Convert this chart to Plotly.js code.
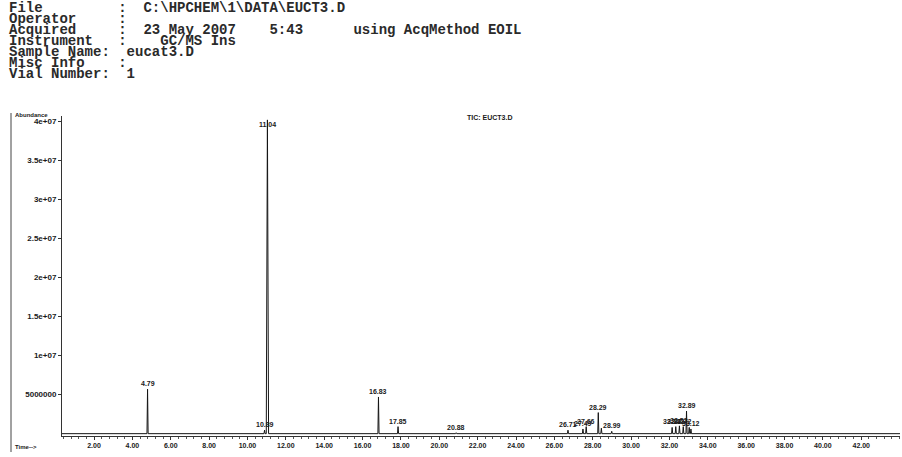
<!DOCTYPE html>
<html>
<head>
<meta charset="utf-8">
<script src="https://cdn.plot.ly/plotly-3.0.1.min.js"></script>
<style>
  html, body { margin: 0; padding: 0; background: #fff; }
  #chart { width: 902px; height: 457px; }
</style>
</head>
<body>
<div id="chart"></div>
<script>
// ---- data ----
const headerLines = [
  "File         :  C:\\HPCHEM\\1\\DATA\\EUCT3.D",
  "Operator     :",
  "Acquired     :  23 May 2007    5:43      using AcqMethod EOIL",
  "Instrument   :    GC/MS Ins",
  "Sample Name:  eucat3.D",
  "Misc Info    :",
  "Vial Number:  1"
];
const peakTimes   = [4.79, 10.89, 11.04, 16.83, 17.85, 20.88, 26.71, 27.49, 27.66, 28.29, 28.45, 28.99, 32.14, 32.33, 32.52, 32.72, 32.89, 33.03, 33.12];
const peakHeights = [5.7e6, 0.45e6, 4.02e7, 4.7e6, 0.9e6, 0.12e6, 0.45e6, 0.6e6, 0.9e6, 2.7e6, 0.7e6, 0.3e6, 0.8e6, 0.9e6, 1.0e6, 0.9e6, 2.9e6, 0.8e6, 0.6e6];
const peakLabels  = ["4.79", "10.89", "11.04", "16.83", "17.85", "20.88", "26.71", "27.49", "27.66", "28.29", "", "28.99", "32.14", "32.33", "32.52", "32.72", "32.89", "", "33.12"];
const yTickVals   = [5e6, 1e7, 1.5e7, 2e7, 2.5e7, 3e7, 3.5e7, 4e7];
const yTickText   = ["5000000", "1e+07", "1.5e+07", "2e+07", "2.5e+07", "3e+07", "3.5e+07", "4e+07"];
const xTickVals   = [2, 4, 6, 8, 10, 12, 14, 16, 18, 20, 22, 24, 26, 28, 30, 32, 34, 36, 38, 40, 42];
const xTickText   = ["2.00", "4.00", "6.00", "8.00", "10.00", "12.00", "14.00", "16.00", "18.00", "20.00", "22.00", "24.00", "26.00", "28.00", "30.00", "32.00", "34.00", "36.00", "38.00", "40.00", "42.00"];
const xStart = 0.33, xEnd = 44.02;

// ---- build chromatogram trace (narrow spikes on a flat baseline) ----
const xs = [xStart], ys = [0];
peakTimes.forEach((t, i) => {
  const w = peakHeights[i] > 3e7 ? 0.06 : 0.03;
  xs.push(t - w, t, t + w);
  ys.push(0, peakHeights[i], 0);
});
xs.push(xEnd); ys.push(0);

const trace = {
  x: xs, y: ys, type: 'scatter', mode: 'lines',
  line: { color: '#151515', width: 1 },
  hoverinfo: 'skip', cliponaxis: false
};

// ---- annotations ----
const PL = 62, PR = 900, PT = 116, PB = 436;
const pw = PR - PL, ph = PB - PT;
const px = v => (v - PL) / pw;
const py = v => (PB - v) / ph;
const sans = 'Liberation Sans, Arial, sans-serif';

const ann = [];
headerLines.forEach((s, i) => {
  ann.push({
    xref: 'paper', yref: 'paper', x: px(7), y: py(8 + i * 11),
    xanchor: 'left', yanchor: 'middle', showarrow: false,
    text: s.replace(/ /g, '&nbsp;'),
    font: { family: 'Liberation Mono, monospace', size: 14, color: '#2a2a2a', weight: 'bold' }
  });
});
peakTimes.forEach((t, i) => {
  if (!peakLabels[i]) return;
  const big = peakHeights[i] > 3.9e7;
  ann.push({
    x: t, y: peakHeights[i], xref: 'x', yref: 'y', showarrow: false,
    xanchor: 'center', yanchor: big ? 'top' : 'bottom', yshift: big ? 1 : 0,
    text: peakLabels[i],
    font: { family: sans, size: 7, color: '#1a1a1a', weight: 'bold' }
  });
});
ann.push({
  xref: 'paper', yref: 'paper', x: px(490), y: py(117), xanchor: 'center', yanchor: 'middle',
  showarrow: false, text: 'TIC: EUCT3.D',
  font: { family: sans, size: 7, color: '#1a1a1a', weight: 'bold' }
});
ann.push({
  xref: 'paper', yref: 'paper', x: px(13), y: py(115), xanchor: 'left', yanchor: 'middle',
  showarrow: false, text: 'Abundance',
  font: { family: sans, size: 6, color: '#1a1a1a', weight: 'bold' }
});
ann.push({
  xref: 'paper', yref: 'paper', x: px(13), y: py(447), xanchor: 'left', yanchor: 'middle',
  showarrow: false, text: 'Time--&gt;',
  font: { family: sans, size: 6, color: '#1a1a1a', weight: 'bold' }
});

const layout = {
  width: 902, height: 457,
  margin: { l: PL, r: 902 - PR, t: PT, b: 457 - PB, pad: 0 },
  paper_bgcolor: '#fff', plot_bgcolor: '#fff',
  showlegend: false,
  xaxis: {
    range: [xStart, xEnd], showgrid: false, zeroline: false,
    showline: true, linecolor: '#333', linewidth: 1,
    tickmode: 'array', tickvals: xTickVals, ticktext: xTickText,
    ticks: 'outside', ticklen: 3, tickcolor: '#333', tickwidth: 1,
    minor: { dtick: 0.4, ticks: 'outside', ticklen: 2, tickcolor: '#555', showgrid: false },
    tickfont: { family: sans, size: 7, color: '#1a1a1a', weight: 'bold' }
  },
  yaxis: {
    range: [-0.3e6, 4.07e7], showgrid: false, zeroline: false,
    showline: true, linecolor: '#333', linewidth: 1,
    tickmode: 'array', tickvals: yTickVals, ticktext: yTickText,
    ticks: 'outside', ticklen: 3, tickcolor: '#333',
    tickfont: { family: sans, size: 8, color: '#1a1a1a', weight: 'bold' }
  },
  shapes: [
    { type: 'line', xref: 'paper', yref: 'paper', x0: px(11), x1: px(11), y0: py(113), y1: py(452),
      line: { color: '#444', width: 1 } }
  ],
  annotations: ann
};

Plotly.newPlot('chart', [trace], layout, { displayModeBar: false, staticPlot: true });
</script>
</body>
</html>
